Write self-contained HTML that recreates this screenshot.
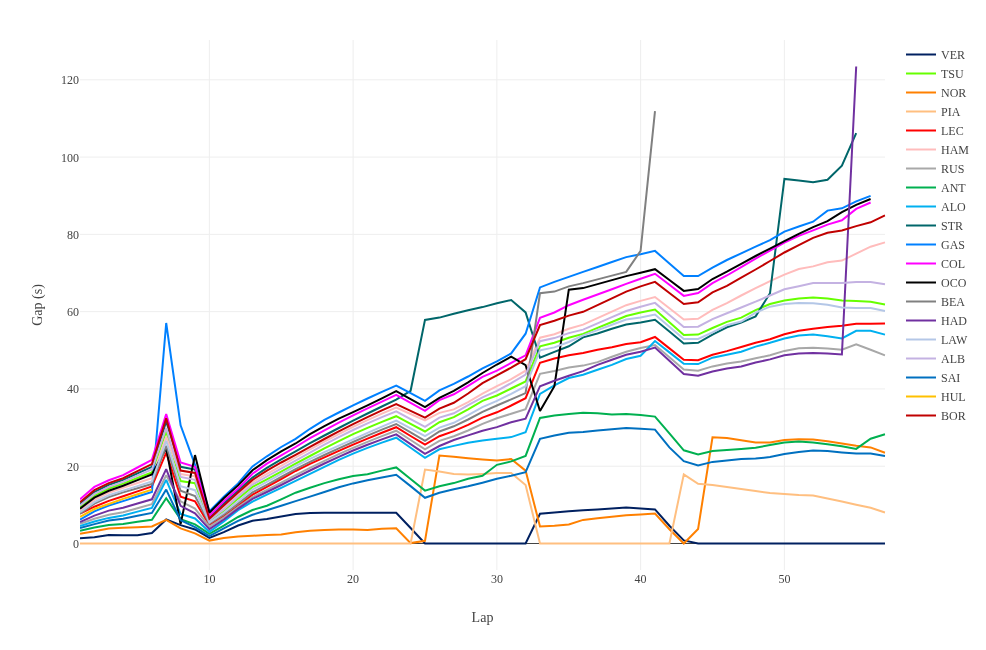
<!DOCTYPE html>
<html><head><meta charset="utf-8"><title>Gap</title>
<style>
html,body{margin:0;padding:0;background:#fff;}
body{width:986px;height:650px;overflow:hidden;}
svg{display:block;}
text{font-family:"Liberation Serif","Times New Roman",serif;font-size:12px;fill:#444;}
.g{stroke:#eeeeee;stroke-width:1;fill:none;shape-rendering:crispEdges}
.l{fill:none;stroke-width:2;stroke-linejoin:miter;stroke-miterlimit:2;stroke-linecap:butt}
</style></head><body>
<svg width="986" height="650" viewBox="0 0 986 650">
<rect width="986" height="650" fill="#ffffff"/>

<path d="M209.38,40V570" stroke="#eee" stroke-width="1" fill="none"/>
<path d="M353.12,40V570" stroke="#eee" stroke-width="1" fill="none"/>
<path d="M496.88,40V570" stroke="#eee" stroke-width="1" fill="none"/>
<path d="M640.62,40V570" stroke="#eee" stroke-width="1" fill="none"/>
<path d="M784.38,40V570" stroke="#eee" stroke-width="1" fill="none"/>
<path d="M80,543.50H885" stroke="#eee" stroke-width="1" fill="none"/>
<path d="M80,466.22H885" stroke="#eee" stroke-width="1" fill="none"/>
<path d="M80,388.94H885" stroke="#eee" stroke-width="1" fill="none"/>
<path d="M80,311.66H885" stroke="#eee" stroke-width="1" fill="none"/>
<path d="M80,234.38H885" stroke="#eee" stroke-width="1" fill="none"/>
<path d="M80,157.10H885" stroke="#eee" stroke-width="1" fill="none"/>
<path d="M80,79.82H885" stroke="#eee" stroke-width="1" fill="none"/>
<clipPath id="c"><rect x="80" y="40" width="805.5" height="530"/></clipPath>
<rect x="80" y="543" width="805" height="1" fill="#444"/>
<g clip-path="url(#c)">
<path class="l" stroke="#002060" d="M80.0,538.3L94.4,537.3L108.8,535.0L123.1,535.2L137.5,535.2L151.9,533.0L166.2,519.5L180.6,525.1L195.0,529.5L209.4,537.9L223.8,532.1L238.1,525.5L252.5,520.8L266.9,518.9L281.2,516.4L295.6,514.0L310.0,512.9L324.4,512.8L338.8,512.8L353.1,512.7L367.5,512.7L381.9,512.7L396.2,512.7L410.6,528.0L425.0,543.5L439.4,543.5L453.8,543.5L468.1,543.5L482.5,543.5L496.9,543.5L511.2,543.5L525.6,543.5L540.0,513.8L554.4,512.5L568.8,511.3L583.1,510.2L597.5,509.4L611.9,508.6L626.2,507.5L640.6,508.6L655.0,509.4L669.4,525.7L683.8,540.4L698.1,543.5L712.5,543.5L726.9,543.5L741.2,543.5L755.6,543.5L770.0,543.5L784.4,543.5L798.8,543.5L813.1,543.5L827.5,543.5L841.9,543.5L856.2,543.5L870.6,543.5L885.0,543.5"/>
<path class="l" stroke="#66ff00" d="M80.0,507.3L94.4,495.8L108.8,488.5L123.1,483.6L137.5,478.0L151.9,472.4L166.2,431.5L180.6,481.1L195.0,483.2L209.4,521.2L223.8,510.9L238.1,498.6L252.5,486.9L266.9,479.4L281.2,471.6L295.6,463.7L310.0,456.0L324.4,448.4L338.8,441.1L353.1,434.2L367.5,427.8L381.9,421.8L396.2,416.2L410.6,423.9L425.0,431.5L439.4,422.2L453.8,417.2L468.1,409.4L482.5,400.9L496.9,395.5L511.2,388.5L525.6,381.5L540.0,346.3L554.4,342.8L568.8,337.7L583.1,333.9L597.5,327.9L611.9,322.0L626.2,316.0L640.6,312.5L655.0,309.5L669.4,322.2L683.8,335.0L698.1,334.6L712.5,328.0L726.9,321.9L741.2,317.6L755.6,310.2L770.0,304.0L784.4,300.5L798.8,298.6L813.1,297.4L827.5,298.6L841.9,300.5L856.2,300.9L870.6,301.7L885.0,304.4"/>
<path class="l" stroke="#ff8000" d="M80.0,533.8L94.4,531.3L108.8,528.4L123.1,527.7L137.5,527.2L151.9,526.5L166.2,519.9L180.6,528.4L195.0,533.4L209.4,540.6L223.8,538.1L238.1,536.5L252.5,535.8L266.9,535.0L281.2,534.6L295.6,532.3L310.0,530.7L324.4,529.9L338.8,529.5L353.1,529.5L367.5,529.9L381.9,528.8L396.2,528.2L410.6,543.1L425.0,540.8L439.4,455.5L453.8,456.7L468.1,458.2L482.5,459.4L496.9,460.6L511.2,459.0L525.6,470.6L540.0,526.5L554.4,525.7L568.8,524.5L583.1,519.9L597.5,518.3L611.9,516.8L626.2,515.2L640.6,514.4L655.0,513.5L669.4,529.2L683.8,543.5L698.1,529.0L712.5,437.3L726.9,438.1L741.2,440.2L755.6,442.4L770.0,442.4L784.4,440.0L798.8,439.3L813.1,439.5L827.5,441.2L841.9,443.5L856.2,445.7L870.6,447.4L885.0,452.8"/>
<path class="l" stroke="#ffbf80" d="M80.0,543.5L94.4,543.5L108.8,543.5L123.1,543.5L137.5,543.5L151.9,543.5L166.2,543.5L180.6,543.5L195.0,543.5L209.4,543.5L223.8,543.5L238.1,543.5L252.5,543.5L266.9,543.5L281.2,543.5L295.6,543.5L310.0,543.5L324.4,543.5L338.8,543.5L353.1,543.5L367.5,543.5L381.9,543.5L396.2,543.5L410.6,543.5L425.0,469.5L439.4,471.4L453.8,473.9L468.1,474.5L482.5,473.9L496.9,473.0L511.2,473.0L525.6,485.0L540.0,543.5L554.4,543.5L568.8,543.5L583.1,543.5L597.5,543.5L611.9,543.5L626.2,543.5L640.6,543.5L655.0,543.5L669.4,543.5L683.8,474.3L698.1,483.8L712.5,485.0L726.9,486.9L741.2,488.9L755.6,491.0L770.0,493.1L784.4,493.9L798.8,495.1L813.1,495.6L827.5,498.6L841.9,501.6L856.2,504.8L870.6,507.7L885.0,512.5"/>
<path class="l" stroke="#ff0000" d="M80.0,513.7L94.4,506.7L108.8,500.9L123.1,496.2L137.5,491.4L151.9,486.5L166.2,452.6L180.6,496.6L195.0,501.3L209.4,525.1L223.8,516.4L238.1,505.9L252.5,494.7L266.9,486.9L281.2,479.0L295.6,471.0L310.0,463.9L324.4,457.3L338.8,450.9L353.1,444.7L367.5,438.6L381.9,432.8L396.2,427.2L410.6,436.0L425.0,444.7L439.4,436.2L453.8,431.1L468.1,424.9L482.5,417.6L496.9,412.3L511.2,405.5L525.6,398.2L540.0,362.7L554.4,358.5L568.8,355.2L583.1,352.9L597.5,349.8L611.9,347.2L626.2,344.1L640.6,342.2L655.0,337.0L669.4,348.4L683.8,359.8L698.1,360.2L712.5,354.8L726.9,351.1L741.2,347.0L755.6,342.8L770.0,339.3L784.4,334.2L798.8,330.8L813.1,328.8L827.5,326.9L841.9,325.7L856.2,323.8L870.6,323.8L885.0,323.6"/>
<path class="l" stroke="#ffbcbc" d="M80.0,510.9L94.4,499.9L108.8,492.7L123.1,487.7L137.5,483.0L151.9,478.2L166.2,436.9L180.6,474.1L195.0,476.3L209.4,519.5L223.8,508.2L238.1,495.1L252.5,482.3L266.9,473.9L281.2,465.8L295.6,457.5L310.0,449.5L324.4,441.6L338.8,434.1L353.1,426.9L367.5,420.1L381.9,413.6L396.2,407.5L410.6,414.0L425.0,420.5L439.4,412.9L453.8,409.4L468.1,402.1L482.5,393.7L496.9,386.2L511.2,379.2L525.6,370.7L540.0,337.7L554.4,334.2L568.8,328.8L583.1,324.6L597.5,318.1L611.9,311.6L626.2,305.2L640.6,300.9L655.0,297.0L669.4,308.3L683.8,319.5L698.1,318.8L712.5,309.8L726.9,303.2L741.2,295.5L755.6,288.1L770.0,281.2L784.4,274.6L798.8,269.0L813.1,266.4L827.5,262.2L841.9,260.6L856.2,253.7L870.6,246.7L885.0,242.4"/>
<path class="l" stroke="#a8a8a8" d="M80.0,523.7L94.4,518.7L108.8,514.8L123.1,512.3L137.5,508.2L151.9,504.2L166.2,475.3L180.6,501.3L195.0,508.6L209.4,526.6L223.8,517.5L238.1,507.1L252.5,497.0L266.9,489.8L281.2,482.7L295.6,475.1L310.0,467.9L324.4,460.9L338.8,454.2L353.1,447.8L367.5,441.8L381.9,436.1L396.2,430.7L410.6,440.0L425.0,449.3L439.4,440.8L453.8,436.2L468.1,430.5L482.5,423.8L496.9,418.3L511.2,413.7L525.6,409.2L540.0,373.8L554.4,370.9L568.8,367.6L583.1,365.6L597.5,362.1L611.9,356.7L626.2,351.7L640.6,348.0L655.0,345.1L669.4,357.3L683.8,369.5L698.1,370.7L712.5,366.4L726.9,363.5L741.2,361.4L755.6,358.3L770.0,355.2L784.4,350.9L798.8,348.2L813.1,347.8L827.5,348.6L841.9,349.8L856.2,344.3L870.6,349.8L885.0,355.4"/>
<path class="l" stroke="#00b050" d="M80.0,530.7L94.4,527.6L108.8,525.1L123.1,524.1L137.5,521.8L151.9,519.7L166.2,498.2L180.6,519.1L195.0,524.3L209.4,533.8L223.8,525.7L238.1,517.0L252.5,510.0L266.9,505.7L281.2,499.3L295.6,492.7L310.0,487.7L324.4,483.1L338.8,479.2L353.1,476.1L367.5,474.3L381.9,470.6L396.2,467.4L410.6,479.0L425.0,490.6L439.4,486.3L453.8,483.1L468.1,478.8L482.5,475.7L496.9,464.8L511.2,461.4L525.6,455.9L540.0,417.9L554.4,415.6L568.8,413.9L583.1,412.7L597.5,413.3L611.9,414.5L626.2,413.9L640.6,414.9L655.0,416.6L669.4,433.4L683.8,450.3L698.1,454.4L712.5,451.1L726.9,450.1L741.2,448.9L755.6,447.8L770.0,445.1L784.4,442.4L798.8,441.6L813.1,442.4L827.5,444.3L841.9,446.2L856.2,448.9L870.6,438.7L885.0,434.2"/>
<path class="l" stroke="#00b0f0" d="M80.0,526.1L94.4,521.5L108.8,517.9L123.1,515.4L137.5,511.6L151.9,507.9L166.2,479.9L180.6,513.9L195.0,518.5L209.4,531.9L223.8,521.4L238.1,510.2L252.5,501.6L266.9,494.7L281.2,487.9L295.6,480.9L310.0,473.9L324.4,466.8L338.8,459.9L353.1,453.6L367.5,447.9L381.9,442.6L396.2,437.7L410.6,447.8L425.0,457.9L439.4,449.3L453.8,445.9L468.1,442.8L482.5,440.4L496.9,438.7L511.2,437.1L525.6,432.3L540.0,393.9L554.4,385.4L568.8,378.0L583.1,374.7L597.5,369.7L611.9,364.9L626.2,359.0L640.6,355.8L655.0,341.0L669.4,352.4L683.8,363.7L698.1,364.1L712.5,357.7L726.9,354.8L741.2,351.7L755.6,346.6L770.0,342.8L784.4,338.5L798.8,335.4L813.1,334.6L827.5,336.2L841.9,338.5L856.2,330.8L870.6,330.8L885.0,334.6"/>
<path class="l" stroke="#00666a" d="M80.0,504.0L94.4,492.0L108.8,484.8L123.1,479.9L137.5,473.4L151.9,466.8L166.2,421.4L180.6,466.8L195.0,469.5L209.4,517.3L223.8,503.6L238.1,490.6L252.5,477.6L266.9,467.8L281.2,459.3L295.6,451.3L310.0,443.2L324.4,435.5L338.8,428.0L353.1,420.7L367.5,413.5L381.9,406.5L396.2,399.7L410.6,390.8L425.0,319.9L439.4,317.6L453.8,313.7L468.1,310.2L482.5,307.1L496.9,303.2L511.2,300.0L525.6,312.4L540.0,357.7L554.4,351.9L568.8,346.3L583.1,337.4L597.5,333.5L611.9,328.8L626.2,324.6L640.6,322.6L655.0,319.7L669.4,331.5L683.8,343.4L698.1,342.8L712.5,334.6L726.9,327.3L741.2,322.6L755.6,316.4L770.0,293.2L784.4,178.9L798.8,180.6L813.1,182.3L827.5,179.8L841.9,165.7L856.2,133.1"/>
<path class="l" stroke="#0080ff" d="M80.0,519.7L94.4,511.3L108.8,505.5L123.1,501.1L137.5,496.5L151.9,492.0L166.2,323.0L180.6,425.3L195.0,464.8L209.4,511.3L223.8,496.6L238.1,483.4L252.5,466.4L266.9,456.3L281.2,447.0L295.6,438.9L310.0,428.8L324.4,419.9L338.8,412.5L353.1,405.4L367.5,398.5L381.9,391.9L396.2,385.6L410.6,393.2L425.0,400.9L439.4,390.4L453.8,383.9L468.1,376.5L482.5,368.4L496.9,361.4L511.2,353.4L525.6,333.7L540.0,287.4L554.4,281.9L568.8,276.9L583.1,271.9L597.5,267.0L611.9,262.0L626.2,257.1L640.6,254.2L655.0,250.9L669.4,263.5L683.8,276.1L698.1,276.1L712.5,267.6L726.9,260.0L741.2,253.3L755.6,246.7L770.0,240.1L784.4,231.6L798.8,226.5L813.1,221.7L827.5,210.6L841.9,208.3L856.2,201.3L870.6,195.9"/>
<path class="l" stroke="#ff00ff" d="M80.0,499.3L94.4,486.9L108.8,480.3L123.1,475.1L137.5,467.5L151.9,459.8L166.2,414.1L180.6,462.5L195.0,466.8L209.4,515.8L223.8,501.3L238.1,488.5L252.5,473.8L266.9,463.7L281.2,455.3L295.6,447.0L310.0,438.1L324.4,430.4L338.8,422.6L353.1,415.4L367.5,408.4L381.9,401.6L396.2,394.9L410.6,402.8L425.0,410.8L439.4,400.1L453.8,394.3L468.1,385.8L482.5,376.9L496.9,370.7L511.2,362.9L525.6,355.4L540.0,317.8L554.4,312.5L568.8,305.2L583.1,299.8L597.5,294.5L611.9,289.2L626.2,283.9L640.6,278.8L655.0,273.8L669.4,284.8L683.8,295.9L698.1,293.0L712.5,283.1L726.9,275.5L741.2,267.2L755.6,258.7L770.0,250.6L784.4,242.6L798.8,235.8L813.1,230.4L827.5,224.6L841.9,220.3L856.2,208.9L870.6,202.5"/>
<path class="l" stroke="#000000" d="M80.0,508.8L94.4,497.6L108.8,490.8L123.1,485.8L137.5,480.1L151.9,474.5L166.2,448.2L180.6,524.1L195.0,455.1L209.4,512.7L223.8,498.2L238.1,485.4L252.5,470.3L266.9,460.2L281.2,451.3L295.6,443.5L310.0,434.2L324.4,426.1L338.8,418.7L353.1,412.1L367.5,405.3L381.9,398.4L396.2,391.2L410.6,399.2L425.0,407.1L439.4,397.8L453.8,390.8L468.1,382.3L482.5,373.0L496.9,364.5L511.2,356.7L525.6,365.2L540.0,411.0L554.4,386.2L568.8,289.7L583.1,288.1L597.5,284.1L611.9,280.1L626.2,276.1L640.6,272.8L655.0,269.2L669.4,280.0L683.8,290.9L698.1,289.1L712.5,279.0L726.9,271.7L741.2,263.8L755.6,256.0L770.0,248.6L784.4,241.2L798.8,233.9L813.1,227.1L827.5,221.1L841.9,212.2L856.2,204.8L870.6,199.0"/>
<path class="l" stroke="#808080" d="M80.0,513.7L94.4,503.6L108.8,497.0L123.1,492.4L137.5,488.2L151.9,484.0L166.2,445.9L180.6,490.8L195.0,496.0L209.4,523.5L223.8,514.4L238.1,503.6L252.5,492.4L266.9,484.8L281.2,477.0L295.6,469.1L310.0,461.9L324.4,455.0L338.8,448.4L353.1,442.0L367.5,435.7L381.9,429.7L396.2,424.0L410.6,432.4L425.0,440.8L439.4,431.5L453.8,426.3L468.1,419.5L482.5,411.8L496.9,405.5L511.2,399.4L525.6,393.1L540.0,293.2L554.4,291.6L568.8,286.4L583.1,283.1L597.5,279.4L611.9,275.6L626.2,271.9L640.6,250.9L655.0,111.1"/>
<path class="l" stroke="#7030a0" d="M80.0,522.0L94.4,515.6L108.8,510.6L123.1,507.7L137.5,503.5L151.9,499.3L166.2,469.1L180.6,505.9L195.0,513.3L209.4,529.2L223.8,519.5L238.1,508.6L252.5,498.9L266.9,492.0L281.2,485.0L295.6,477.6L310.0,470.5L324.4,463.5L338.8,456.8L353.1,450.5L367.5,444.7L381.9,439.4L396.2,434.4L410.6,444.1L425.0,453.8L439.4,446.0L453.8,440.0L468.1,435.4L482.5,430.7L496.9,427.1L511.2,422.2L525.6,418.7L540.0,386.2L554.4,380.8L568.8,375.7L583.1,371.1L597.5,364.9L611.9,359.8L626.2,354.8L640.6,351.7L655.0,347.6L669.4,360.8L683.8,374.0L698.1,375.7L712.5,371.5L726.9,368.4L741.2,366.4L755.6,362.5L770.0,359.4L784.4,355.2L798.8,353.6L813.1,352.9L827.5,353.6L841.9,354.4L856.2,66.5"/>
<path class="l" stroke="#b4c7e7" d="M80.0,512.3L94.4,502.2L108.8,495.3L123.1,490.6L137.5,486.1L151.9,481.5L166.2,440.8L180.6,486.1L195.0,490.2L209.4,522.6L223.8,512.7L238.1,501.3L252.5,489.6L266.9,481.9L281.2,473.9L295.6,466.0L310.0,458.9L324.4,452.1L338.8,445.7L353.1,439.3L367.5,432.9L381.9,426.7L396.2,420.7L410.6,428.4L425.0,436.2L439.4,427.6L453.8,422.8L468.1,415.2L482.5,407.1L496.9,400.9L511.2,393.9L525.6,386.2L540.0,350.3L554.4,347.4L568.8,342.0L583.1,335.4L597.5,330.1L611.9,324.8L626.2,319.5L640.6,317.6L655.0,314.5L669.4,326.8L683.8,339.1L698.1,338.9L712.5,332.3L726.9,325.3L741.2,321.5L755.6,312.7L770.0,306.7L784.4,304.0L798.8,302.9L813.1,303.2L827.5,304.8L841.9,307.5L856.2,307.9L870.6,307.9L885.0,311.0"/>
<path class="l" stroke="#c4b2e2" d="M80.0,505.5L94.4,493.9L108.8,486.9L123.1,481.9L137.5,475.7L151.9,469.5L166.2,428.0L180.6,476.9L195.0,479.8L209.4,520.2L223.8,509.4L238.1,496.6L252.5,484.6L266.9,476.5L281.2,468.7L295.6,460.6L310.0,452.6L324.4,444.7L338.8,437.1L353.1,430.0L367.5,423.4L381.9,417.1L396.2,411.4L410.6,419.1L425.0,426.9L439.4,417.6L453.8,413.3L468.1,405.2L482.5,397.4L496.9,390.8L511.2,383.1L525.6,374.5L540.0,341.2L554.4,338.1L568.8,333.1L583.1,329.6L597.5,323.4L611.9,317.2L626.2,311.0L640.6,306.7L655.0,302.9L669.4,314.9L683.8,326.9L698.1,326.7L712.5,319.1L726.9,313.3L741.2,307.5L755.6,301.7L770.0,295.5L784.4,289.3L798.8,286.2L813.1,283.1L827.5,283.1L841.9,283.1L856.2,281.9L870.6,281.9L885.0,284.3"/>
<path class="l" stroke="#0070c0" d="M80.0,528.0L94.4,524.1L108.8,520.6L123.1,518.7L137.5,515.8L151.9,512.9L166.2,489.6L180.6,520.2L195.0,527.2L209.4,536.1L223.8,528.4L238.1,520.8L252.5,514.8L266.9,510.2L281.2,505.7L295.6,501.1L310.0,496.6L324.4,492.0L338.8,487.3L353.1,483.4L367.5,480.3L381.9,477.4L396.2,474.7L410.6,486.1L425.0,497.8L439.4,492.7L453.8,489.2L468.1,486.3L482.5,482.7L496.9,478.8L511.2,475.7L525.6,472.2L540.0,438.9L554.4,435.6L568.8,432.7L583.1,431.9L597.5,430.4L611.9,429.2L626.2,428.0L640.6,428.8L655.0,429.6L669.4,447.4L683.8,461.2L698.1,465.4L712.5,461.9L726.9,460.4L741.2,459.0L755.6,458.6L770.0,457.1L784.4,454.0L798.8,451.9L813.1,450.5L827.5,450.9L841.9,452.4L856.2,453.6L870.6,453.6L885.0,455.9"/>
<path class="l" stroke="#ffc000" d="M80.0,516.8L94.4,509.0L108.8,504.0L123.1,498.9L137.5,494.3L151.9,489.6"/>
<path class="l" stroke="#c00000" d="M80.0,502.2L94.4,490.2L108.8,483.1L123.1,478.2L137.5,471.1L151.9,464.1L166.2,418.3L180.6,470.6L195.0,473.0L209.4,518.7L223.8,505.5L238.1,492.5L252.5,479.9L266.9,470.6L281.2,462.5L295.6,454.8L310.0,446.8L324.4,439.0L338.8,431.4L353.1,424.1L367.5,417.2L381.9,410.4L396.2,404.0L410.6,410.8L425.0,417.6L439.4,408.6L453.8,402.8L468.1,393.5L482.5,383.1L496.9,375.3L511.2,367.6L525.6,359.2L540.0,325.1L554.4,320.7L568.8,315.6L583.1,311.8L597.5,305.1L611.9,298.3L626.2,291.6L640.6,286.4L655.0,281.9L669.4,293.0L683.8,304.0L698.1,302.3L712.5,292.4L726.9,285.8L741.2,277.7L755.6,269.5L770.0,261.0L784.4,252.5L798.8,245.1L813.1,237.8L827.5,232.7L841.9,230.4L856.2,226.1L870.6,222.3L885.0,215.3"/>
</g>
<text x="209.4" y="583" text-anchor="middle">10</text>
<text x="353.1" y="583" text-anchor="middle">20</text>
<text x="496.9" y="583" text-anchor="middle">30</text>
<text x="640.6" y="583" text-anchor="middle">40</text>
<text x="784.4" y="583" text-anchor="middle">50</text>
<text x="79" y="548.0" text-anchor="end">0</text>
<text x="79" y="470.7" text-anchor="end">20</text>
<text x="79" y="393.4" text-anchor="end">40</text>
<text x="79" y="316.2" text-anchor="end">60</text>
<text x="79" y="238.9" text-anchor="end">80</text>
<text x="79" y="161.6" text-anchor="end">100</text>
<text x="79" y="84.3" text-anchor="end">120</text>
<text x="482.5" y="622" text-anchor="middle" style="font-size:14px">Lap</text>
<text transform="translate(42,305) rotate(-90)" text-anchor="middle" style="font-size:14px">Gap (s)</text>
<path class="l" stroke="#002060" d="M906,54.5H936"/>
<text x="941" y="58.7">VER</text>
<path class="l" stroke="#66ff00" d="M906,73.5H936"/>
<text x="941" y="77.7">TSU</text>
<path class="l" stroke="#ff8000" d="M906,92.5H936"/>
<text x="941" y="96.7">NOR</text>
<path class="l" stroke="#ffbf80" d="M906,111.5H936"/>
<text x="941" y="115.7">PIA</text>
<path class="l" stroke="#ff0000" d="M906,130.5H936"/>
<text x="941" y="134.7">LEC</text>
<path class="l" stroke="#ffbcbc" d="M906,149.5H936"/>
<text x="941" y="153.7">HAM</text>
<path class="l" stroke="#a8a8a8" d="M906,168.5H936"/>
<text x="941" y="172.7">RUS</text>
<path class="l" stroke="#00b050" d="M906,187.5H936"/>
<text x="941" y="191.7">ANT</text>
<path class="l" stroke="#00b0f0" d="M906,206.5H936"/>
<text x="941" y="210.7">ALO</text>
<path class="l" stroke="#00666a" d="M906,225.5H936"/>
<text x="941" y="229.7">STR</text>
<path class="l" stroke="#0080ff" d="M906,244.5H936"/>
<text x="941" y="248.7">GAS</text>
<path class="l" stroke="#ff00ff" d="M906,263.5H936"/>
<text x="941" y="267.7">COL</text>
<path class="l" stroke="#000000" d="M906,282.5H936"/>
<text x="941" y="286.7">OCO</text>
<path class="l" stroke="#808080" d="M906,301.5H936"/>
<text x="941" y="305.7">BEA</text>
<path class="l" stroke="#7030a0" d="M906,320.5H936"/>
<text x="941" y="324.7">HAD</text>
<path class="l" stroke="#b4c7e7" d="M906,339.5H936"/>
<text x="941" y="343.7">LAW</text>
<path class="l" stroke="#c4b2e2" d="M906,358.5H936"/>
<text x="941" y="362.7">ALB</text>
<path class="l" stroke="#0070c0" d="M906,377.5H936"/>
<text x="941" y="381.7">SAI</text>
<path class="l" stroke="#ffc000" d="M906,396.5H936"/>
<text x="941" y="400.7">HUL</text>
<path class="l" stroke="#c00000" d="M906,415.5H936"/>
<text x="941" y="419.7">BOR</text>
</svg></body></html>
